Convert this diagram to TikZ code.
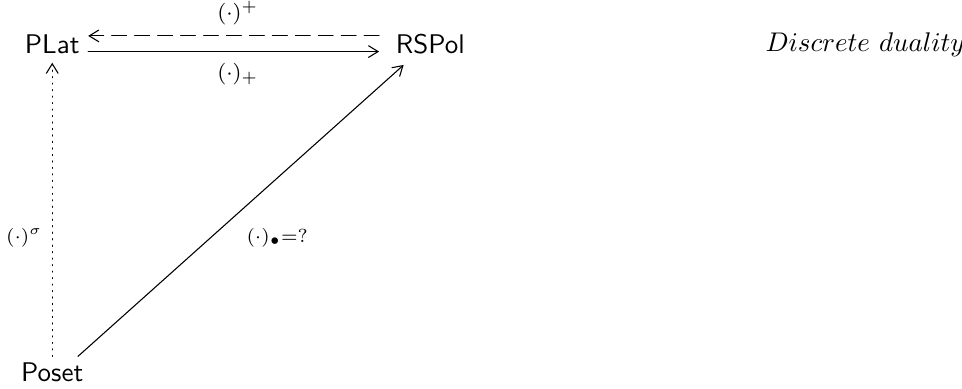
\documentclass[tikz,border=0pt]{standalone}
\usetikzlibrary{arrows.meta}
\begin{document}
\begin{tikzpicture}[>={Straight Barb[length=3.6pt,width=4.4pt]}, line join=round, line cap=round]
	\tikzset{cat/.style={font=\sffamily, inner sep=2pt},
		lab/.style={font=\footnotesize, inner sep=1pt}}
	\useasboundingbox (0,0) rectangle (12.52,5.06);
	%Objets
	\node[cat] (PLat) at (0.68,4.48) {PLat};
	\node[cat] (RSPol) at (5.6,4.48) {RSPol};
	\node[cat] (Poset) at (0.68,0.22) {Poset};
	\node (titre) at (11.26,4.48) {$Discrete\ duality$};
	%Fleches
	\draw[->, shorten <=1pt, shorten >=4pt] ([yshift=-2.6pt]PLat.east) -- ([yshift=-2.6pt]RSPol.west)
		node[lab, midway, below=3pt] (moins) {$(\cdot)_+$};
	\draw[->, dash pattern=on 5.5pt off 3pt, shorten <=4pt, shorten >=1pt] ([yshift=3.2pt]RSPol.west) -- ([yshift=3.2pt]PLat.east)
		node[lab, midway, above=3pt] (plus) {$(\cdot)^+$};
	\draw[->, dotted, shorten >=1pt] (Poset.north) -- (PLat.south)
		node[lab, font=\scriptsize, pos=0.4, left=2.5pt] (sigma) {$(\cdot)^\sigma$};
	\draw[->, shorten >=2.5pt] ([xshift=9.5pt]Poset.north) -- ([xshift=-8pt]RSPol.south)
		node[lab, font=\scriptsize, pos=0.5, anchor=north west, yshift=-6pt] (point) {$(\cdot)_\bullet$=?};
\end{tikzpicture}
\end{document}
